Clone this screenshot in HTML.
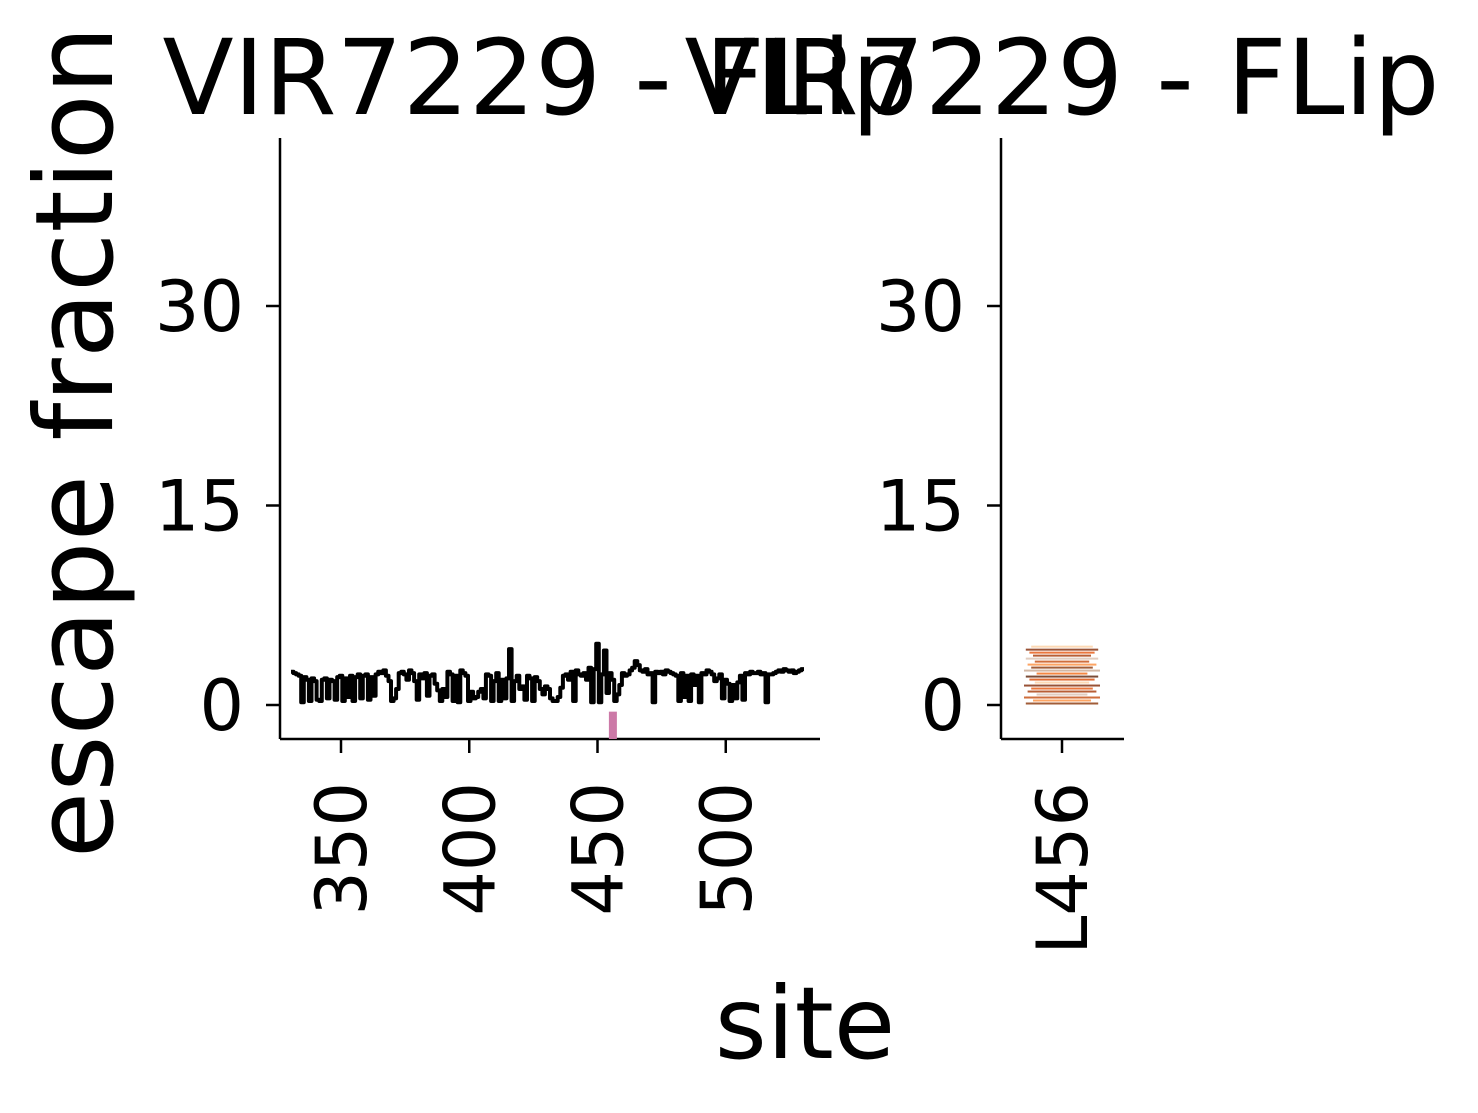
<!DOCTYPE html>
<html><head><meta charset="utf-8"><style>
body{margin:0;background:#fff;}
svg text{font-family:"DejaVu Sans","Liberation Sans",sans-serif;fill:#000;}
</style></head><body>
<svg id="chart" width="1478" height="1108" viewBox="0 0 1478 1108">
<g id="left"></g>
<g id="right"></g>
<text x="540" y="114" font-size="104" text-anchor="middle">VIR7229 - FLip</text>
<text x="1062" y="114" font-size="104" text-anchor="middle">VIR7229 - FLip</text>
<text transform="translate(112,442) rotate(-90)" font-size="108" text-anchor="middle">escape fraction</text>
<text x="805" y="1058" font-size="100" text-anchor="middle">site</text>
</svg>
<script>
const siteStart = 331;
const escapeValues = [
2.5,2.4,2.3,2.2,0.2,2.1,1.9,0.3,2.0,1.8,
0.4,0.3,1.9,2.0,0.5,1.9,1.8,0.4,2.1,2.2,
0.3,2.0,0.6,2.2,0.3,2.1,2.3,0.5,2.2,2.3,
0.4,2.1,0.7,2.3,2.5,2.4,2.6,2.2,1.8,0.3,
0.5,1.2,2.4,2.5,2.3,1.9,2.6,2.4,1.8,0.4,
2.3,2.0,2.4,0.7,2.2,2.3,1.6,1.1,0.3,1.2,
0.6,2.5,2.3,0.3,2.2,0.2,2.6,2.4,2.2,0.3,
1.0,0.5,0.6,1.0,1.2,0.5,2.3,2.2,0.3,1.8,
2.4,0.3,1.9,0.5,2.0,4.2,0.3,1.8,2.2,1.2,
1.4,0.4,2.2,2.0,0.3,2.1,1.8,1.2,0.8,1.4,
1.2,0.5,0.3,0.3,0.6,1.3,2.2,2.3,1.9,2.5,
0.3,2.6,2.3,2.2,2.4,1.9,2.8,0.2,2.7,4.6,
0.2,2.3,4.1,0.9,2.4,1.9,0.3,0.8,1.5,2.4,
2.2,2.3,2.6,2.8,3.3,3.0,2.6,2.5,2.7,2.3,
2.4,0.2,2.5,2.4,2.5,2.3,2.6,2.5,2.4,2.3,
2.2,0.3,2.4,0.6,2.2,0.3,2.3,1.5,2.2,0.2,
2.4,2.3,2.6,2.5,2.3,1.8,2.0,2.3,0.5,1.9,
1.6,0.3,1.5,0.5,1.7,2.2,0.4,2.4,2.3,2.5,
2.4,2.4,2.5,2.3,2.4,0.2,2.3,2.3,2.4,2.5,
2.6,2.5,2.7,2.6,2.5,2.6,2.4,2.5,2.6,2.7
];
const highlightSites = [456];
const highlightValues = [-0.5];
const yTicks = [0,15,30];
const xTicksLeft = [350,400,450,500];
const logoSite = ["L456"];
const logoHeights = [0.9,0.5,1.0,0.3,0.8,0.6,1.0,0.4,0.7,0.9,0.3,1.0,0.6,0.8,0.4,0.9,0.5,0.7,0.9,0.6];
const logoColors = ["#8a3406","#fd8d3c","#c44a0b","#d9c0b0","#a63603","#e6550d","#7f2704","#fdd0a2","#d94801","#5a1f04","#f16913","#c8a890"];
const logoTotal = 4.5;

const NS="http://www.w3.org/2000/svg";
function mk(tag,attrs,parent){const e=document.createElementNS(NS,tag);for(const k in attrs)e.setAttribute(k,attrs[k]);parent.appendChild(e);return e;}
const yScale=v=>705-v*13.3;
const xL=s=>341+(s-350)*2.565;
const L=document.getElementById('left'), R=document.getElementById('right');

function axes(g,x0,x1,pre){
  let a=mk('line',{x1:x0,y1:138,x2:x0,y2:739,stroke:'#000','stroke-width':2.5},g);
  
  
  a=mk('line',{x1:x0,y1:739,x2:x1,y2:739,stroke:'#000','stroke-width':2.5},g);
  
  
  yTicks.forEach(t=>{
    const y=yScale(t);
    mk('line',{x1:x0-14,y1:y,x2:x0,y2:y,stroke:'#000','stroke-width':2.5},g);
    const tx=mk('text',{x:x0-36,y:y+25,'font-size':70,'text-anchor':'end'},g);
    tx.textContent=t;
    
    
  });
}
axes(L,280,820,'left');
axes(R,1001,1124,'right');

xTicksLeft.forEach(t=>{
  const x=xL(t);
  mk('line',{x1:x,y1:739,x2:x,y2:753,stroke:'#000','stroke-width':2.5},L);
  const tx=mk('text',{transform:`translate(${x+25},782) rotate(-90)`,'font-size':70,'text-anchor':'end'},L);
  tx.textContent=t;
  
  
});

let d='';
escapeValues.forEach((v,i)=>{
  const s=siteStart+i;
  const xa=xL(s-0.5), xb=xL(s+0.5), y=yScale(v);
  d+=(i===0?'M':'L')+xa.toFixed(1)+' '+y.toFixed(1)+' L'+xb.toFixed(1)+' '+y.toFixed(1)+' ';
});
const p=mk('path',{d:d,fill:'none',stroke:'#000','stroke-width':4,'stroke-linejoin':'round'},L);



highlightSites.forEach((s,i)=>{
  const y0=yScale(highlightValues[i]);
  const r=mk('rect',{x:xL(s)-4,y:y0,width:8,height:739-y0,fill:'#cc79a7'},L);
  
  
});

const cx=1062;
mk('line',{x1:cx,y1:739,x2:cx,y2:753,stroke:'#000','stroke-width':2.5},R);
const lt=mk('text',{transform:`translate(${cx+25},782) rotate(-90)`,'font-size':70,'text-anchor':'end'},R);
lt.textContent=logoSite[0];


const step=logoTotal/logoHeights.length;
logoHeights.forEach((h,i)=>{
  const y=yScale(step*(i+0.5));
  const w=40+36*h;
  const r=mk('rect',{x:cx-w/2,y:y-1,width:w,height:2,fill:logoColors[i%logoColors.length],opacity:0.8},R);
  
  
});
</script>
</body></html>
